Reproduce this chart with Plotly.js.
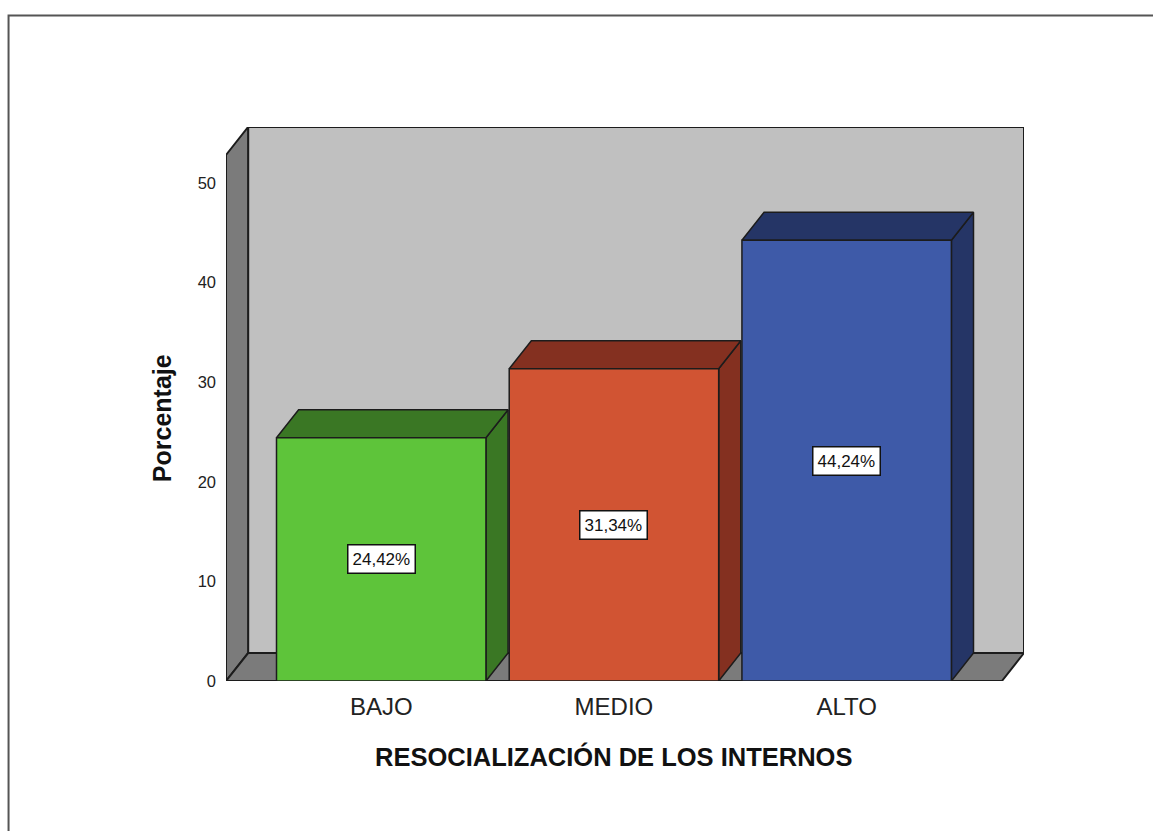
<!DOCTYPE html>
<html>
<head>
<meta charset="utf-8">
<script src="https://cdn.plot.ly/plotly-3.0.1.min.js"></script>
<style>
  html, body { margin: 0; padding: 0; background: #ffffff; }
  #chart { width: 1153px; height: 831px; }
</style>
</head>
<body>
<div id="chart"></div>
<script>
// ---- Data ----
const categories = ['BAJO', 'MEDIO', 'ALTO'];
const percentages = [24.42, 31.34, 44.24];
const valueLabels = ['24,42%', '31,34%', '44,24%'];
const yTickValues = [0, 10, 20, 30, 40, 50];
const xTitle = 'RESOCIALIZACIÓN DE LOS INTERNOS';
const yTitle = 'Porcentaje';

// ---- Style ----
const frontColors = ['#5ec43a', '#d15433', '#3e5aa8'];
const darkColors = ['#3a7724', '#843020', '#253566'];
const FONT = 'Liberation Sans, Arial, Helvetica, sans-serif';
const barWidth = 0.9;
const depthX = 0.095;     // 3D depth in category units
const depthY = 2.81;      // 3D depth in value units
const xMin = -0.667, xMax = 2.667;
const wallTop = 52.8;
const edge = '#1c1c1c';

function poly(xs, ys, fill, w) {
  return {
    type: 'scatter', mode: 'lines',
    x: xs.concat([xs[0]]), y: ys.concat([ys[0]]),
    fill: 'toself', fillcolor: fill,
    line: { color: edge, width: w || 1.5 },
    hoverinfo: 'skip', showlegend: false
  };
}

const traces = [];
// back wall
traces.push(poly([xMin + depthX, xMax + depthX, xMax + depthX, xMin + depthX],
                 [depthY, depthY, wallTop + depthY, wallTop + depthY], '#c0c0c0', 2));
// left wall
traces.push(poly([xMin, xMin + depthX, xMin + depthX, xMin],
                 [0, depthY, wallTop + depthY, wallTop], '#7b7b7b', 2));
// floor
traces.push(poly([xMin, xMax, xMax + depthX, xMin + depthX],
                 [0, 0, depthY, depthY], '#7b7b7b', 2));

// bars
categories.forEach((c, i) => {
  const v = percentages[i];
  const l = i - barWidth / 2, r = i + barWidth / 2;
  // right side face
  traces.push(poly([r, r + depthX, r + depthX, r], [0, depthY, v + depthY, v], darkColors[i]));
  // top face
  traces.push(poly([l, r, r + depthX, l + depthX], [v, v, v + depthY, v + depthY], darkColors[i]));
  // front face
  traces.push(poly([l, r, r, l], [0, 0, v, v], frontColors[i]));
});

const annotations = categories.map((c, i) => ({
  x: i, y: percentages[i] / 2, xref: 'x', yref: 'y',
  text: valueLabels[i], showarrow: false,
  font: { family: FONT, size: 17, color: '#111' },
  bgcolor: '#ffffff', bordercolor: '#111', borderwidth: 1.5, borderpad: 4
}));
annotations.push({
  x: (xMin + xMax) / 2, xref: 'x', y: -0.137, yref: 'paper',
  text: xTitle, showarrow: false, xanchor: 'center', yanchor: 'middle',
  font: { family: FONT, size: 25.5, color: '#111', weight: 'bold' }
});
annotations.push({
  x: -0.08, xref: 'paper', y: wallTop / 2, yref: 'y',
  text: yTitle, showarrow: false, textangle: -90, xanchor: 'center', yanchor: 'middle',
  font: { family: FONT, size: 25, color: '#111', weight: 'bold' }
});

const layout = {
  width: 1153, height: 831,
  margin: { l: 226, r: 129, t: 127, b: 150 },
  paper_bgcolor: '#ffffff', plot_bgcolor: 'rgba(0,0,0,0)',
  showlegend: false,
  xaxis: {
    range: [xMin, xMax + depthX], showgrid: false, zeroline: false, showline: false,
    tickvals: categories.map((c, i) => i), ticktext: categories, ticks: '',
    tickfont: { family: FONT, size: 24, color: '#222' }, ticklabelstandoff: 9,
    fixedrange: true
  },
  yaxis: {
    range: [0, wallTop + depthY], showgrid: false, zeroline: false, showline: false,
    tickvals: yTickValues, ticktext: yTickValues.map(String), ticks: '',
    tickfont: { family: FONT, size: 16.5, color: '#222' }, ticklabelstandoff: 9,
    fixedrange: true
  },
  annotations: annotations,
  shapes: [{
    type: 'rect', xref: 'paper', yref: 'paper',
    x0: -0.2725, x1: 1.175, y0: -0.30, y1: 1.2013,
    line: { color: '#555', width: 2 }, layer: 'below'
  }]
};

Plotly.newPlot('chart', traces, layout, { displayModeBar: false, staticPlot: true });
</script>
</body>
</html>
